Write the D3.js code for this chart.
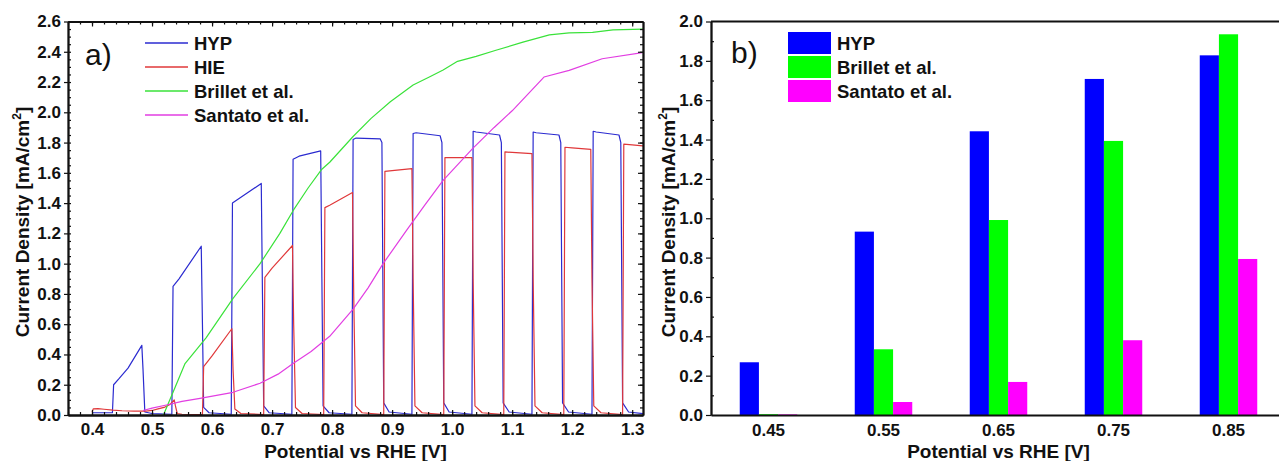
<!DOCTYPE html>
<head>
<meta charset="utf-8">
<script src="https://d3js.org/d3.v7.min.js"></script>
<style>
  body { margin: 0; background: #fff; }
  svg { font-family: Arial, "Liberation Sans", sans-serif; }
  .tick text { font-size: 17px; font-weight: bold; fill: #111; }
  .axis path, .axis line { stroke: #111; }
  .axis path { stroke-width: 1.8px; }
  .axis line { stroke-width: 1.2px; }
  .title { font-size: 19px; font-weight: bold; fill: #111; }
  .leg { font-size: 18.5px; font-weight: bold; fill: #111; }
  .panel { font-size: 30px; fill: #111; }
  .curve { fill: none; stroke-width: 1.2px; stroke-linejoin: round; }
</style>
</head>
<body>
<div id="vis"></div>
<script>
// ---------- data, panel a) : [potential V, current mA/cm2] ----------
var hyp = [
  [0.400,0.015],[0.434,0.015],[0.436,0.20],[0.445,0.24],[0.46,0.31],[0.483,0.46],[0.485,0.30],[0.488,0.02],[0.50,0.01],[0.533,0.005],
  [0.535,0.85],[0.545,0.90],[0.582,1.115],[0.584,0.60],[0.586,0.05],[0.595,0.015],[0.632,0.005],
  [0.634,1.40],[0.682,1.53],[0.684,0.80],[0.686,0.06],[0.695,0.015],[0.733,0.005],
  [0.735,1.69],[0.745,1.71],[0.781,1.745],[0.783,0.9],[0.785,0.06],[0.795,0.015],[0.833,0.005],
  [0.835,1.82],[0.84,1.83],[0.88,1.825],[0.883,1.80],[0.886,0.08],[0.895,0.02],[0.933,0.005],
  [0.935,1.86],[0.94,1.865],[0.98,1.845],[0.983,1.80],[0.986,0.08],[0.995,0.02],[1.033,0.005],
  [1.035,1.875],[1.04,1.87],[1.079,1.85],[1.082,1.80],[1.085,0.08],[1.095,0.02],[1.133,0.005],
  [1.135,1.87],[1.14,1.865],[1.178,1.85],[1.181,1.80],[1.184,0.08],[1.194,0.02],[1.233,0.005],
  [1.235,1.875],[1.24,1.87],[1.278,1.85],[1.281,1.80],[1.284,0.08],[1.294,0.02],[1.32,0.008]
];
var hie = [
  [0.400,0.02],[0.402,0.04],[0.41,0.042],[0.42,0.038],[0.435,0.032],[0.45,0.028],[0.47,0.026],[0.49,0.025],
  [0.50,0.03],[0.51,0.04],[0.52,0.05],[0.53,0.07],[0.537,0.10],[0.539,0.06],[0.542,0.01],[0.55,0.005],[0.584,0.003],
  [0.586,0.32],[0.60,0.39],[0.633,0.57],[0.635,0.30],[0.638,0.04],[0.648,0.01],[0.686,0.003],
  [0.688,0.91],[0.70,0.97],[0.734,1.12],[0.736,0.60],[0.739,0.05],[0.75,0.01],[0.786,0.003],
  [0.788,1.37],[0.796,1.386],[0.834,1.47],[0.836,0.80],[0.839,0.06],[0.85,0.015],[0.886,0.003],
  [0.888,1.61],[0.90,1.615],[0.933,1.628],[0.935,0.90],[0.938,0.06],[0.95,0.015],[0.986,0.003],
  [0.988,1.70],[1.00,1.70],[1.033,1.70],[1.035,0.90],[1.038,0.06],[1.05,0.015],[1.086,0.003],
  [1.088,1.738],[1.10,1.735],[1.133,1.727],[1.135,0.90],[1.138,0.06],[1.15,0.015],[1.186,0.003],
  [1.188,1.769],[1.20,1.765],[1.231,1.755],[1.233,0.90],[1.236,0.06],[1.248,0.015],[1.284,0.003],
  [1.286,1.79],[1.30,1.785],[1.32,1.777]
];
var brillet = [
  [0.519,0],[0.535,0.15],[0.555,0.34],[0.59,0.51],[0.635,0.77],[0.68,1.0],[0.713,1.2],[0.735,1.35],
  [0.76,1.5],[0.782,1.62],[0.796,1.67],[0.835,1.84],[0.865,1.96],[0.897,2.07],[0.935,2.18],[0.962,2.233],
  [0.985,2.28],[1.009,2.337],[1.04,2.37],[1.073,2.41],[1.118,2.464],[1.162,2.512],[1.195,2.525],
  [1.234,2.528],[1.268,2.545],[1.318,2.55]
];
var santato = [
  [0.485,0.03],[0.50,0.045],[0.524,0.066],[0.55,0.09],[0.58,0.11],[0.635,0.15],[0.68,0.21],[0.71,0.27],
  [0.735,0.34],[0.765,0.42],[0.796,0.52],[0.835,0.70],[0.86,0.84],[0.885,1.0],[0.924,1.22],[0.955,1.39],
  [0.985,1.55],[1.034,1.76],[1.07,1.9],[1.1,2.01],[1.153,2.233],[1.195,2.277],[1.25,2.354],[1.317,2.394]
];
var lineNames  = ["HYP", "HIE", "Brillet et al.", "Santato et al."];
var lineColors = ["#2b2bd0", "#e0383a", "#3ae23a", "#e23ee2"];

// ---------- data, panel b) ----------
var potentials  = ["0.45", "0.55", "0.65", "0.75", "0.85"];
var barNames    = ["HYP", "Brillet et al.", "Santato et al."];
var barHYP      = [0.268, 0.932, 1.442, 1.708, 1.828];
var barBrillet  = [0.004, 0.334, 0.991, 1.393, 1.935];
var barSantato  = [0.003, 0.066, 0.168, 0.380, 0.793];
var barColors   = ["#0000ff", "#00ff00", "#ff00ff"];

var W = 1279, H = 461;
var svg = d3.select("#vis").append("svg").attr("width", W).attr("height", H);

////////// panel a //////////
var ax = {left: 68, right: 643, top: 21.5, bottom: 415};
var x = d3.scaleLinear().domain([0.36, 1.318]).range([ax.left, ax.right]);
var y = d3.scaleLinear().domain([0, 2.6]).range([ax.bottom, ax.top]);

svg.append("clipPath").attr("id", "clipA").append("rect")
    .attr("x", ax.left).attr("y", ax.top - 2)
    .attr("width", ax.right - ax.left).attr("height", ax.bottom - ax.top + 2);

var line = d3.line().x(function(d) { return x(d[0]); }).y(function(d) { return y(d[1]); });
var plot = svg.append("g").attr("clip-path", "url(#clipA)");
[hyp, hie, brillet, santato].forEach(function(s, i) {
  plot.append("path").attr("class", "curve").attr("d", line(s)).attr("stroke", lineColors[i]);
});

var xMajor = d3.range(0.4, 1.301, 0.1), xMinor = d3.range(0.36, 1.32, 0.02);
var yMajor = d3.range(0, 2.601, 0.2),  yMinor = d3.range(0, 2.601, 0.05);
var f1 = d3.format(".1f");

function addAxis(gen, tx, ty) {
  return svg.append("g").attr("class", "axis").attr("transform", "translate(" + tx + "," + ty + ")").call(gen);
}
// minor ticks (inward)
addAxis(d3.axisBottom(x).tickValues(xMinor).tickSize(-3).tickFormat("").tickSizeOuter(0), 0, ax.bottom);
addAxis(d3.axisLeft(y).tickValues(yMinor).tickSize(-3).tickFormat("").tickSizeOuter(0), ax.left, 0);
addAxis(d3.axisTop(x).tickValues(xMinor).tickSize(-3).tickFormat("").tickSizeOuter(0), 0, ax.top);
addAxis(d3.axisRight(y).tickValues(yMinor).tickSize(-3).tickFormat("").tickSizeOuter(0), ax.right, 0);
// major ticks
addAxis(d3.axisBottom(x).tickValues(xMajor).tickSize(-5).tickPadding(9).tickFormat(f1).tickSizeOuter(0), 0, ax.bottom)
  .selectAll(".tick text").attr("y", 20).attr("dy", 0);
addAxis(d3.axisLeft(y).tickValues(yMajor).tickSize(4).tickPadding(3).tickFormat(f1).tickSizeOuter(0), ax.left, 0);
addAxis(d3.axisTop(x).tickValues(xMajor).tickSize(-5).tickFormat("").tickSizeOuter(0), 0, ax.top);
addAxis(d3.axisRight(y).tickValues(yMajor).tickSize(-5).tickFormat("").tickSizeOuter(0), ax.right, 0);

svg.append("text").attr("class", "title").attr("text-anchor", "middle")
    .attr("x", (ax.left + ax.right) / 2).attr("y", 458).text("Potential vs RHE [V]");

function yTitle(cx) {
  var t = svg.append("text").attr("class", "title").attr("text-anchor", "middle")
      .attr("transform", "translate(" + cx + ",222) rotate(-90)");
  t.append("tspan").text("Current Density [mA/cm");
  t.append("tspan").attr("dy", -8).style("font-size", "12px").text("2");
  t.append("tspan").attr("dy", 8).text("]");
}
yTitle(29);

svg.append("text").attr("class", "panel").attr("x", 85).attr("y", 65).text("a)");

var legA = svg.append("g");
lineNames.forEach(function(n, i) {
  var ly = 43 + i * 24;
  legA.append("line").attr("x1", 145).attr("x2", 188).attr("y1", ly).attr("y2", ly)
      .attr("stroke", lineColors[i]).attr("stroke-width", 1.3);
  legA.append("text").attr("class", "leg").attr("x", 194).attr("y", ly + 7).text(n);
});

////////// panel b //////////
var bx = {left: 711, right: 1286, top: 21.5, bottom: 415};
var xb = d3.scaleBand().domain(potentials).range([bx.left, bx.right]).paddingInner(0.5).paddingOuter(0.25);
var xs = d3.scaleBand().domain(barNames).range([0, xb.bandwidth()]);
var yb = d3.scaleLinear().domain([0, 2.0]).range([bx.bottom, bx.top]);

var barSeries = [barHYP, barBrillet, barSantato];
var bars = svg.append("g");
barSeries.forEach(function(vals, si) {
  bars.selectAll(".b" + si).data(vals).enter().append("rect")
      .attr("x", function(d, i) { return xb(potentials[i]) + xs(barNames[si]); })
      .attr("width", xs.bandwidth())
      .attr("y", function(d) { return yb(d); })
      .attr("height", function(d) { return bx.bottom - yb(d); })
      .attr("fill", barColors[si]);
});

addAxis(d3.axisLeft(yb).tickValues(d3.range(0.1, 2.0, 0.2)).tickSize(-3).tickFormat("").tickSizeOuter(0), bx.left, 0);
addAxis(d3.axisLeft(yb).tickValues(d3.range(0, 2.001, 0.2)).tickSize(5).tickPadding(3).tickFormat(f1).tickSizeOuter(0), bx.left, 0);
addAxis(d3.axisBottom(xb).tickSize(0).tickPadding(20).tickSizeOuter(0), 0, bx.bottom)
  .selectAll(".tick text").attr("y", 21).attr("dy", 0);
svg.append("line").attr("x1", bx.left).attr("x2", W).attr("y1", bx.top).attr("y2", bx.top)
    .attr("stroke", "#111").attr("stroke-width", 1.8);

svg.append("text").attr("class", "title").attr("text-anchor", "middle")
    .attr("x", (bx.left + bx.right) / 2).attr("y", 458).text("Potential vs RHE [V]");
yTitle(675);

svg.append("text").attr("class", "panel").attr("x", 731).attr("y", 63).text("b)");

var legB = svg.append("g");
barNames.forEach(function(n, i) {
  var ry = 32 + i * 24;
  legB.append("rect").attr("x", 788).attr("y", ry).attr("width", 43).attr("height", 22).attr("fill", barColors[i]);
  legB.append("text").attr("class", "leg").attr("x", 837).attr("y", ry + 18).text(n);
});
</script>
</body>
